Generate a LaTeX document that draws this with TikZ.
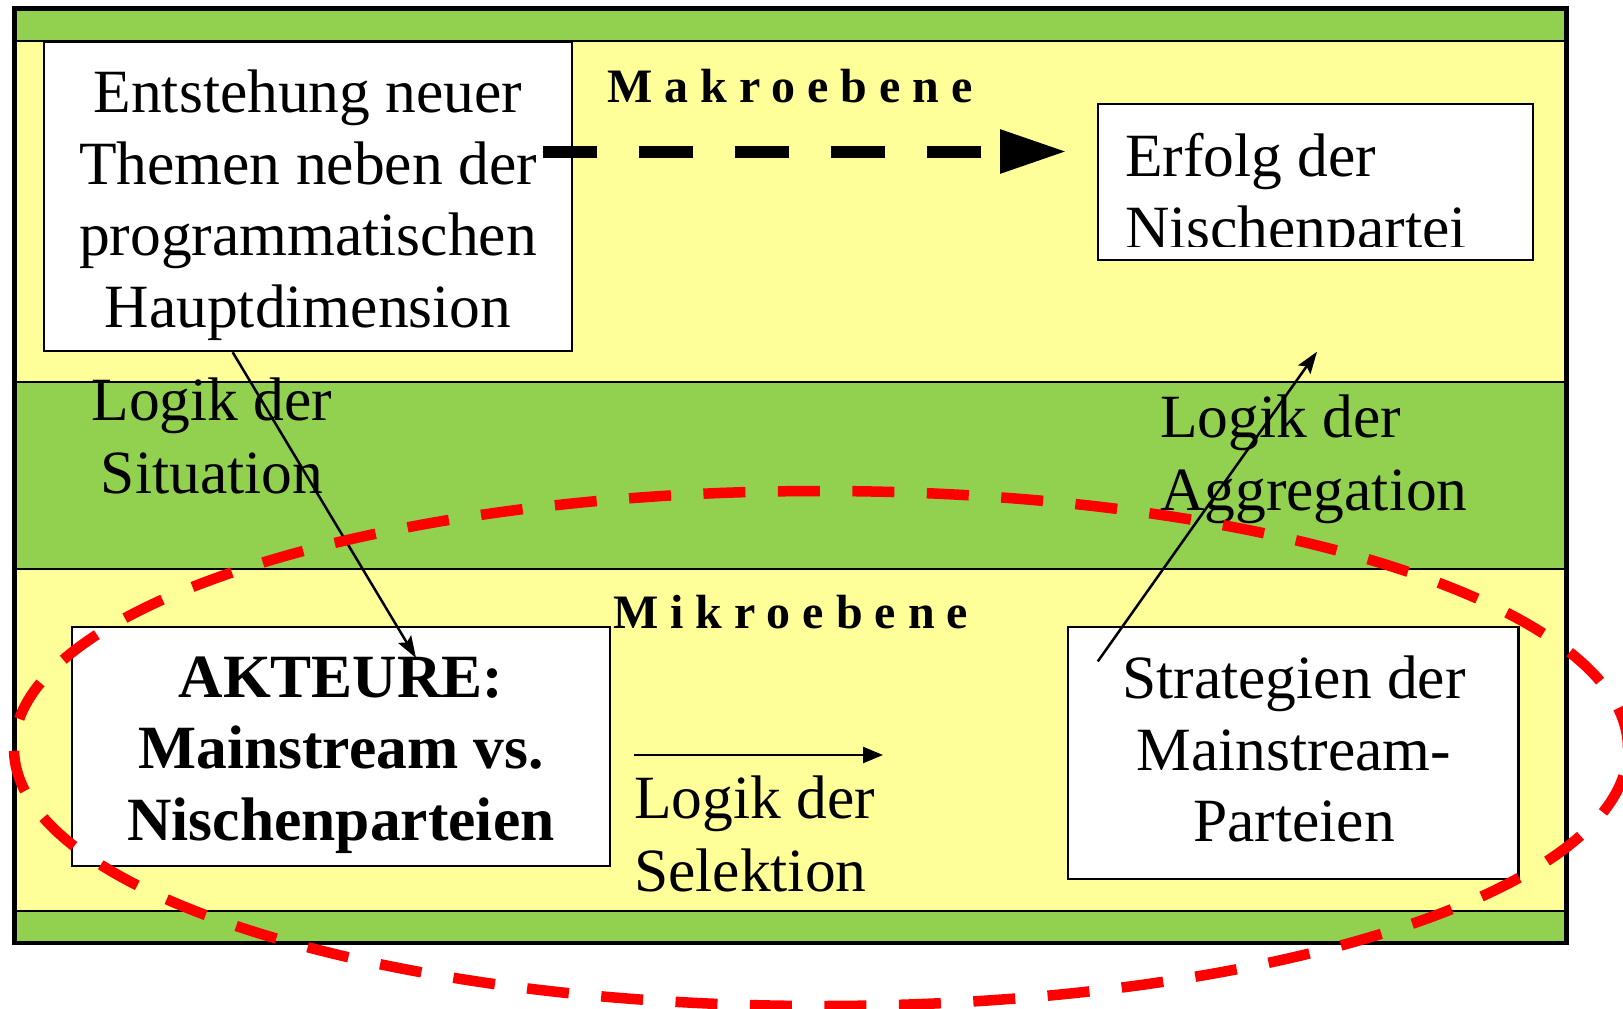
\documentclass[tikz,border=0pt]{standalone}
\usepackage{fontspec}
\setmainfont{Liberation Serif}
\usepackage{tikz}
\usetikzlibrary{arrows.meta,positioning}
\definecolor{bandgreen}{HTML}{92D050}
\definecolor{bandyellow}{HTML}{FFFF99}
\definecolor{ovalred}{HTML}{FF0000}

\tikzset{
  band/.style={draw=black, line width=2pt, fill=bandyellow},
  box/.style={draw=black, fill=white, line width=2.5pt, inner sep=0pt},
  txt/.style={inner sep=0pt, align=center, font=\fontsize{61.5}{71.5}\selectfont},
  lbl/.style={inner sep=0pt, font=\fontsize{61.5}{72.5}\selectfont},
  ebene/.style={inner sep=0pt, anchor=base west,
    font=\fontsize{48}{48}\selectfont\bfseries\addfontfeatures{LetterSpace=25}},
  thinarrow/.style={line width=2.5pt, -{Stealth[length=22pt,width=15pt,inset=4pt]}},
}

\begin{document}
\begin{tikzpicture}[x=1pt, y=-1pt]
    \useasboundingbox (0,0) rectangle (1623,1009);
    % Ebenen
    \fill[bandgreen] (14.5,8.5) rectangle (1566.5,943);
    \draw[band] (14.5,40.5) rectangle (1566.5,382);
    \draw[band] (14.5,568.5) rectangle (1566.5,911);
    \draw[line width=4.5pt] (14.5,8.5) rectangle (1566.5,943);

    \node[ebene] (makro) at (607,102) {Makroebene};
    \node[ebene] (mikro) at (613,628) {Mikroebene};

    % Kaesten
    \node[box, minimum width=528pt, minimum height=309.5pt] (entstehung) at (308,196.25) {};
    \node[txt, anchor=north] (entstehungtxt) at (308,69.7)
      {Entstehung neuer\\Themen neben der\\programmatischen\\Hauptdimension};

    \node[box, minimum width=435pt, minimum height=156pt] (erfolg) at (1315.5,182) {};
    \begin{scope}
      \clip (1098,104) rectangle (1533,246.5);
      \node[txt, align=left, anchor=north west] (erfolgtxt) at (1125,133)
        {Erfolg der\\Nischenpartei};
    \end{scope}

    \node[box, minimum width=538pt, minimum height=239pt] (akteure) at (341,746.5) {};
    \node[txt, anchor=north, font=\fontsize{61.5}{71.5}\selectfont\bfseries] (akteuretxt) at (341,656.4)
      {AKTEURE:\\Mainstream vs.\\Nischenparteien};

    \node[box, minimum width=450.5pt, minimum height=252pt] (strategien) at (1293.25,753) {};
    \node[txt, anchor=north] (strategientxt) at (1294,655.7)
      {Strategien der\\Mainstream-\\Parteien};

    % Logiken
    \node[lbl, align=center, anchor=north] (situation) at (212,378) {Logik der\\Situation};
    \node[lbl, align=left, anchor=north west] (aggregation) at (1160,395) {Logik der\\Aggregation};
    \node[lbl, align=left, anchor=north west] (selektion) at (634,776) {Logik der\\Selektion};

    \coordinate (dashstart) at (543,151.5);
    \coordinate (dashend) at (1067,151.5);
    \coordinate (sitend) at (416,658);
    \coordinate (aggend) at (1317,351.7);
    \coordinate (selstart) at (634,755);
    \coordinate (selend) at (883,755);

    \draw[line width=12pt, dash pattern=on 54pt off 42pt,
          -{Triangle[length=67pt,width=41pt]}] (dashstart) -- (dashend);
    \draw[thinarrow] ([xshift=-75.3pt]entstehung.south) -- (sitend);
    \draw[thinarrow] ([xshift=31pt,yshift=-35.7pt]strategien.north west) -- (aggend);
    \draw[line width=2.5pt, -{Triangle[length=20pt,width=16pt]}] (selstart) -- (selend);

    % Oval
    \draw[ovalred, line width=10.5pt, dash pattern=on 42pt off 32.5pt]
      (821,748.5) ellipse [x radius=807pt, y radius=257.5pt];
\end{tikzpicture}
\end{document}
